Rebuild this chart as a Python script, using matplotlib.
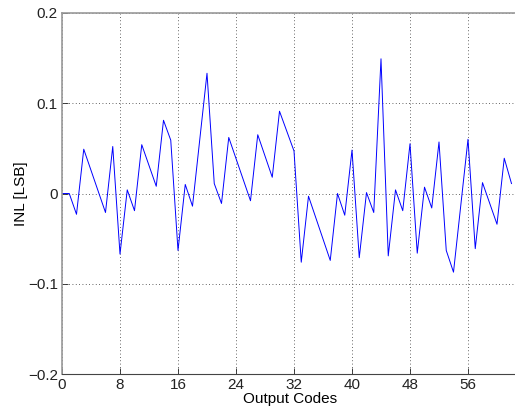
import matplotlib
matplotlib.use('Agg')
import matplotlib.pyplot as plt

# INL per output code (vertices)
codes = [0, 1, 2, 3, 6, 7, 8, 9, 10, 11, 13, 14, 15, 16, 17, 18, 20, 21, 22,
         23, 26, 27, 29, 30, 32, 33, 34, 37, 38, 39, 40, 41, 42, 43, 44, 45,
         46, 47, 48, 49, 50, 51, 52, 53, 54, 56, 57, 58, 60, 61, 62]
inl = [0.0, 0.0, -0.023, 0.049, -0.021, 0.052, -0.067, 0.004, -0.019, 0.054,
       0.008, 0.081, 0.059, -0.063, 0.010, -0.014, 0.133, 0.011, -0.011,
       0.062, -0.008, 0.065, 0.018, 0.091, 0.047, -0.076, -0.003, -0.074,
       0.000, -0.024, 0.048, -0.071, 0.001, -0.021, 0.149, -0.069, 0.004,
       -0.019, 0.055, -0.066, 0.007, -0.016, 0.057, -0.063, -0.087, 0.060,
       -0.061, 0.012, -0.034, 0.039, 0.011]

xticks = [0, 8, 16, 24, 32, 40, 48, 56]
yticks = [-0.2, -0.1, 0, 0.1, 0.2]
ytick_labels = ['\u22120.2', '\u22120.1', '0', '0.1', '0.2']

plt.rcParams['font.family'] = ['Liberation Sans', 'DejaVu Sans']

fig = plt.figure(figsize=(5.15, 4.09), dpi=100)
# axes run past the right edge, like the cropped original
ax = fig.add_axes([62 / 515, (409 - 374.3) / 409, 63 * 7.25 / 515, (374.3 - 12.7) / 409])

ax.plot(codes, inl, color='#0000ff', linewidth=0.7)

ax.set_xlim(0, 63)
ax.set_ylim(-0.2, 0.2)
ax.set_xticks(xticks)
ax.set_yticks(yticks)
ax.set_yticklabels(ytick_labels)
ax.tick_params(direction='in', length=4, width=0.6, labelsize=11, pad=3, colors='#222222')
ax.grid(True, linestyle=(0, (1, 3)), color='#333333', linewidth=0.6)

for side in ['left', 'top', 'right']:
    ax.spines[side].set_color('#999999')
    ax.spines[side].set_linewidth(1.2)
ax.spines['bottom'].set_color('#444444')
ax.spines['bottom'].set_linewidth(0.8)

ax.set_xlabel('Output Codes', fontsize=11, labelpad=0)
ax.set_ylabel('INL [LSB]', fontsize=11, labelpad=0)

fig.savefig('out.png', dpi=100)
